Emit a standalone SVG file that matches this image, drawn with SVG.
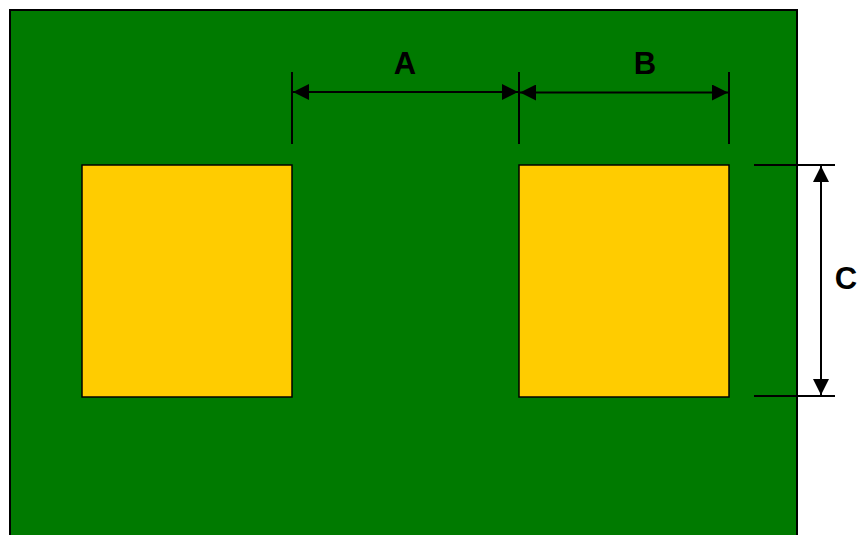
<svg xmlns="http://www.w3.org/2000/svg" width="857" height="535" viewBox="0 0 857 535">
<style>
.lbl{font-family:"Liberation Sans",Arial,sans-serif;font-weight:bold;font-size:31px;fill:#000;text-anchor:middle}
.dim{stroke:#000;stroke-width:2;fill:none}
.pad{fill:#FFCC00;stroke:#000;stroke-width:1.5}
</style>
<defs>
<marker id="ah" viewBox="0 0 16 16" refX="16" refY="8" markerWidth="16" markerHeight="16" markerUnits="userSpaceOnUse" orient="auto-start-reverse">
<path d="M0,0 L16,8 L0,16 Z" fill="#000"/>
</marker>
</defs>
<rect width="857" height="535" fill="#fff"/>
<g id="board"><rect x="10" y="10" width="787" height="535" fill="#007a00" stroke="#000" stroke-width="2"/></g>
<g id="pad1"><rect class="pad" x="82" y="165" width="210" height="232"/></g>
<g id="pad2"><rect class="pad" x="519" y="165" width="210" height="232"/></g>
<g id="connectors">
<line class="dim" x1="292" y1="72" x2="292" y2="144"/>
<line class="dim" x1="519" y1="72" x2="519" y2="144"/>
<line class="dim" x1="729" y1="72" x2="729" y2="144"/>
<line class="dim" x1="293" y1="92" x2="518" y2="92" marker-start="url(#ah)" marker-end="url(#ah)"/>
<line class="dim" x1="520" y1="92.5" x2="728" y2="92.5" marker-start="url(#ah)" marker-end="url(#ah)"/>
<line class="dim" x1="754" y1="165" x2="835" y2="165"/>
<line class="dim" x1="754" y1="396" x2="835" y2="396"/>
<line class="dim" x1="821" y1="166" x2="821" y2="395" marker-start="url(#ah)" marker-end="url(#ah)"/>
</g>
<g id="labels">
<text class="lbl" x="405" y="74">A</text>
<text class="lbl" x="645" y="74">B</text>
<text class="lbl" x="846" y="289">C</text>
</g>
</svg>
